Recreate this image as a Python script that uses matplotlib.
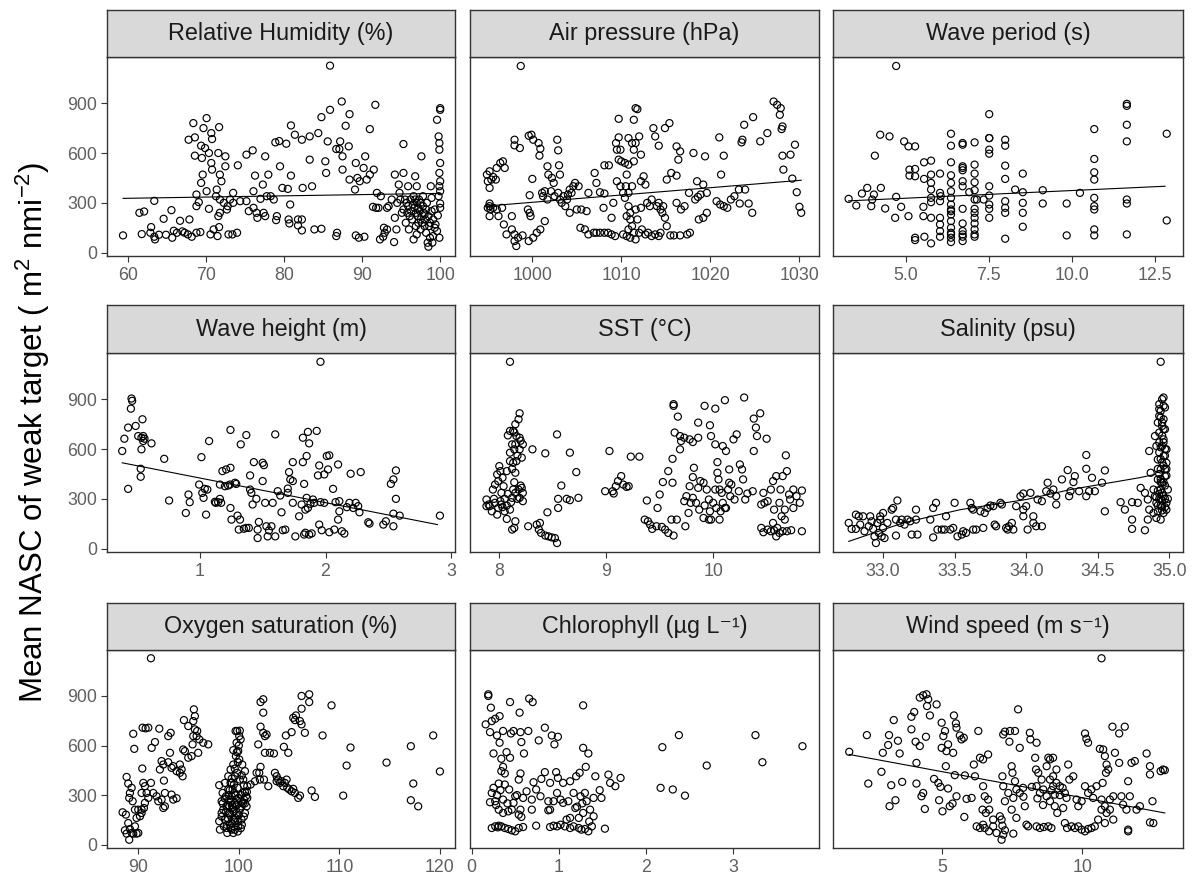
import numpy as np
import matplotlib.pyplot as plt

plt.rcParams['font.family'] = ['Liberation Sans', 'DejaVu Sans']
plt.rcParams['mathtext.fontset'] = 'custom'
plt.rcParams['mathtext.rm'] = 'Liberation Sans'
plt.rcParams['mathtext.it'] = 'Liberation Sans:italic'

# ---- data: (x, mean NASC) per covariate ----
humidity_pts = [
    (59.4, 104), (61.5, 240), (62.1, 248), (63.4, 312), (61.8, 112), (63.0, 154), (62.9, 120), (63.4, 96),
    (63.5, 80), (64.0, 108), (64.6, 204), (64.9, 108), (65.6, 256), (65.7, 90), (65.9, 132), (66.3, 120),
    (66.7, 192), (67.0, 128), (67.3, 120), (67.9, 200), (67.7, 110), (68.2, 96), (68.8, 120), (69.3, 124),
    (68.4, 780), (68.6, 694), (67.8, 680), (68.6, 584), (70.1, 810), (69.7, 750), (70.7, 720), (71.7, 756),
    (70.8, 684), (69.4, 644), (69.9, 630), (70.4, 600), (69.5, 570), (69.6, 470), (69.4, 420), (70.7, 540),
    (70.8, 500), (70.1, 370), (68.8, 350), (69.1, 304), (68.8, 280), (70.4, 264), (71.6, 600), (71.8, 470),
    (72.0, 430), (71.4, 380), (72.5, 580), (72.5, 520), (71.3, 340), (71.8, 320), (72.3, 300), (72.8, 280),
    (71.8, 240), (71.6, 220), (72.7, 260), (73.1, 320), (73.5, 300), (73.5, 360), (74.1, 526), (71.0, 140),
    (70.6, 110), (71.5, 100), (71.7, 154), (72.9, 110), (73.4, 110), (74.0, 120),
    (75.2, 590), (76.0, 616), (74.4, 310), (75.2, 310), (75.5, 250), (76.1, 270), (76.5, 240), (76.6, 210),
    (76.3, 464), (76.1, 370), (77.3, 410), (77.6, 580), (78.0, 470), (77.4, 240), (77.6, 220), (77.0, 324),
    (77.8, 340), (78.3, 340), (78.7, 320), (78.9, 664), (79.4, 672), (80.3, 656), (79.5, 520), (79.1, 220),
    (79.0, 196), (79.8, 390), (80.5, 384), (80.9, 464), (80.8, 290), (80.6, 200), (80.7, 176), (80.9, 766),
    (81.4, 710), (81.8, 200), (82.3, 680), (82.4, 390), (82.3, 200), (81.8, 164), (82.3, 134), (83.3, 700),
    (83.3, 560), (83.6, 400), (83.9, 140), (84.4, 720), (84.8, 144), (84.8, 816), (85.3, 550), (85.4, 480),
    (85.6, 670), (85.9, 1126), (85.9, 860),
    (86.7, 100), (86.8, 120), (86.7, 624), (87.1, 624), (87.2, 670), (87.4, 910), (87.5, 580), (87.5, 500),
    (87.9, 764), (88.3, 640), (88.4, 834), (88.4, 440), (89.1, 380), (89.2, 540), (89.4, 450), (89.2, 104),
    (89.6, 90), (90.3, 96), (89.7, 430), (90.2, 510), (90.4, 580), (90.6, 440), (91.0, 744), (91.0, 470),
    (91.5, 500), (91.7, 890), (91.9, 360), (91.4, 276), (91.8, 270),
    (92.3, 80), (92.7, 96), (92.8, 150), (93.2, 140), (92.9, 120), (92.4, 340), (93.4, 280), (94.1, 64),
    (94.4, 140), (94.2, 210), (94.2, 470), (94.7, 410), (94.8, 360), (95.3, 480), (95.3, 654), (94.9, 320),
    (95.3, 260), (95.7, 300), (95.9, 400), (96.1, 220), (95.6, 180), (96.0, 140), (96.6, 80), (96.8, 460),
    (97.0, 400), (96.8, 320), (97.2, 270), (97.1, 220), (97.5, 300), (97.6, 580), (97.8, 340), (97.9, 240),
    (98.1, 200), (97.5, 140), (98.0, 160), (98.2, 120), (98.4, 60), (98.5, 36), (98.7, 90), (98.5, 220),
    (98.3, 300), (98.8, 400), (98.9, 330), (99.1, 200), (99.1, 100), (99.3, 260), (99.6, 800), (99.8, 700),
    (99.9, 660), (100.0, 870), (100.0, 860), (99.9, 620), (100.0, 540), (99.9, 480), (100.0, 430), (99.9, 400),
    (100.0, 370), (99.8, 340), (100.0, 296), (99.7, 224), (100.0, 270), (99.6, 130), (99.9, 90), (95.8, 240),
    (96.2, 320), (96.5, 290), (96.9, 240), (97.3, 320), (95.1, 240), (95.5, 320), (94.5, 300), (93.8, 320),
    (93.2, 270), (92.1, 270), (97.7, 180), (98.6, 160), (99.4, 170), (96.4, 200), (97.0, 110), (99.0, 60),
    (96.3, 250), (96.7, 270), (97.4, 250), (97.8, 280), (98.2, 260), (98.0, 230), (97.2, 180), (96.9, 160),
    (98.7, 180), (99.3, 150), (97.5, 200), (96.6, 340), (98.9, 250), (95.9, 280), (97.0, 300),
]
humidity_fit = [(59.4, 327), (100.0, 357)]

pressure_pts = [
    (998.7, 1124), (994.9, 470), (995.2, 490), (995.0, 430), (995.4, 440), (995.2, 390), (995.6, 456),
    (995.9, 440), (996.4, 540), (996.7, 550), (996.0, 510), (996.9, 510), (995.2, 280), (995.3, 260),
    (995.0, 270), (995.2, 296), (995.6, 270), (996.0, 260), (996.6, 270), (995.2, 220), (996.2, 220),
    (997.7, 220), (996.8, 170), (997.1, 110), (997.7, 140), (998.0, 110), (998.0, 70), (998.2, 40),
    (998.4, 90), (998.9, 104), (999.5, 260), (999.7, 240), (999.8, 220), (999.6, 70), (1000.1, 90),
    (1000.5, 120), (1000.9, 140), (1001.4, 190), (998.0, 680), (998.0, 646), (998.6, 630), (999.6, 704),
    (999.9, 710), (1000.1, 680), (1000.7, 660), (1000.9, 626), (1000.8, 584), (999.7, 346), (1000.0, 444),
    (1001.1, 360), (1001.2, 340), (1001.4, 370), (1001.7, 520), (1001.8, 470), (1002.1, 370), (1002.2, 450),
    (1001.7, 320), (1002.4, 420), (1002.8, 680), (1002.9, 616), (1003.0, 526), (1003.1, 470), (1002.5, 340),
    (1002.9, 360), (1003.1, 320), (1003.3, 300), (1003.5, 340), (1003.7, 280), (1003.9, 320), (1004.0, 350),
    (1004.2, 380), (1004.4, 360), (1004.6, 400), (1004.8, 420), (1005.2, 400), (1005.0, 260), (1004.2, 240),
    (1005.5, 260), (1006.1, 250), (1005.4, 150), (1005.9, 140), (1006.3, 110), (1006.9, 120), (1007.2, 120),
    (1006.3, 360), (1007.0, 480), (1007.2, 420), (1007.6, 364), (1008.1, 356), (1008.0, 270), (1008.1, 526),
    (1008.6, 526), (1008.9, 210), (1009.1, 300), (1007.6, 120), (1008.1, 120), (1008.5, 120), (1008.9, 110),
    (1009.3, 100),
    (1009.7, 806), (1011.4, 800), (1011.6, 870), (1011.8, 864), (1009.7, 694), (1009.4, 660), (1009.9, 620),
    (1009.5, 620), (1009.7, 560), (1010.0, 550), (1010.4, 540), (1010.8, 690), (1011.2, 660), (1011.6, 660),
    (1012.0, 700), (1011.4, 620), (1012.2, 590), (1010.8, 530), (1011.4, 550), (1010.6, 470), (1009.5, 430),
    (1009.9, 400), (1010.5, 400), (1010.8, 360), (1011.2, 400), (1012.2, 430), (1012.5, 460), (1012.7, 410),
    (1010.2, 360), (1010.4, 330), (1010.8, 280), (1011.0, 240), (1010.6, 220), (1011.0, 200), (1011.2, 160),
    (1010.8, 140), (1011.4, 120), (1011.0, 90), (1010.6, 100), (1011.6, 80), (1010.2, 110), (1012.0, 120),
    (1012.3, 140), (1012.7, 110), (1013.0, 120), (1013.4, 100), (1013.8, 110), (1014.2, 100), (1014.4, 120),
    (1011.8, 200), (1012.2, 270), (1011.6, 260),
    (1012.9, 300), (1013.2, 280), (1013.4, 320), (1014.0, 280), (1014.4, 260), (1014.7, 280), (1014.6, 240),
    (1014.9, 210), (1015.1, 160), (1014.2, 300), (1013.6, 750), (1013.8, 700), (1014.9, 750), (1015.4, 780),
    (1014.2, 644), (1015.1, 440), (1015.6, 480), (1016.2, 464), (1016.2, 640), (1016.4, 560), (1016.6, 610),
    (1016.2, 300), (1016.7, 260), (1017.1, 280), (1017.6, 360), (1018.1, 600), (1018.5, 430), (1018.3, 320),
    (1018.6, 336), (1018.9, 350), (1019.4, 580), (1019.2, 410), (1019.6, 360), (1019.6, 240), (1018.7, 200),
    (1019.2, 210), (1017.7, 120), (1017.4, 110), (1016.6, 104), (1015.9, 104), (1015.5, 104),
    (1021.0, 694), (1021.5, 584), (1021.2, 470), (1020.7, 310), (1021.1, 290), (1021.5, 280), (1021.9, 270),
    (1022.3, 320), (1022.7, 340), (1023.2, 380), (1023.3, 296), (1023.5, 664), (1023.6, 680), (1023.8, 770),
    (1023.9, 380), (1024.7, 240), (1024.3, 296), (1024.8, 816), (1025.6, 670), (1026.4, 720), (1027.1, 910),
    (1027.5, 890), (1027.9, 870), (1027.8, 830), (1028.1, 760), (1028.0, 744), (1028.1, 584), (1028.2, 500),
    (1029.0, 590), (1029.5, 650), (1029.2, 446), (1029.7, 364), (1030.0, 276), (1030.2, 240),
]
pressure_fit = [(994.7, 280), (1030.2, 436)]

period_pts = [
    (4.71, 1124), (3.28, 324), (3.51, 284), (3.68, 356), (3.84, 390), (3.99, 320), (3.96, 280), (4.04, 350),
    (4.07, 584), (4.23, 710), (4.51, 700), (4.25, 390), (4.38, 266), (4.68, 210), (4.71, 336), (4.86, 276),
    (4.95, 670), (5.08, 640), (5.28, 640), (5.11, 500), (5.11, 464), (5.28, 504), (5.28, 460), (5.08, 220),
    (5.28, 90), (5.28, 76), (5.55, 544), (5.76, 554), (5.55, 444), (5.53, 276), (5.53, 220), (5.56, 96),
    (5.76, 470), (5.76, 420), (5.76, 380), (5.76, 304), (5.76, 210), (5.76, 56), (6.03, 476), (6.05, 340),
    (6.03, 310), (6.03, 210), (6.03, 170), (6.03, 130), (6.03, 96), (6.36, 716), (6.36, 644), (6.36, 544),
    (6.36, 466), (6.36, 420), (6.36, 370), (6.36, 330), (6.36, 290), (6.36, 260), (6.36, 230), (6.36, 190),
    (6.36, 150), (6.36, 120), (6.36, 90), (6.36, 64), (6.71, 650), (6.71, 520), (6.71, 496), (6.71, 430),
    (6.71, 400), (6.71, 264), (6.71, 176), (6.71, 130), (6.71, 96), (6.71, 70), (6.91, 364), (7.07, 664),
    (7.07, 530), (7.07, 476), (7.07, 424), (7.07, 376), (7.07, 320), (7.07, 264), (7.07, 210), (7.07, 176),
    (7.07, 140), (7.07, 96), (7.14, 320), (7.34, 320), (7.51, 834), (7.51, 690), (7.51, 596), (7.51, 400),
    (7.51, 344), (7.51, 290), (7.51, 264), (7.51, 210), (7.99, 680), (7.99, 644), (7.99, 524), (7.99, 444),
    (7.99, 310), (7.99, 270), (7.99, 240), (7.99, 84), (8.29, 380), (8.52, 476), (8.52, 364), (8.52, 300),
    (8.52, 240), (8.52, 156), (9.12, 376), (9.12, 296), (9.84, 296), (9.84, 104), (10.24, 360), (10.67, 744),
    (10.67, 564), (10.67, 484), (10.67, 440), (10.67, 330), (10.67, 280), (10.67, 260), (10.67, 140),
    (10.67, 104), (11.65, 896), (11.65, 884), (11.65, 770), (11.65, 670), (11.65, 320), (11.65, 296),
    (11.65, 110), (12.85, 716), (12.85, 194), (6.36, 110), (6.71, 110), (7.07, 110), (6.71, 660), (7.51, 620),
    (6.36, 250), (7.07, 240), (5.76, 330), (6.03, 360), (7.51, 690), (6.71, 510),
]
period_fit = [(3.28, 312), (12.8, 400)]

height_pts = [
    (1.96, 1125), (0.457, 904), (0.462, 890), (0.452, 843), (0.43, 729), (0.49, 739), (0.544, 779),
    (0.40, 662), (0.383, 588), (0.51, 678), (0.536, 668), (0.55, 678), (0.56, 662), (0.536, 598), (0.55, 648),
    (0.616, 634), (0.53, 481), (0.53, 433), (0.43, 360), (0.717, 541), (0.756, 290), (0.889, 215), (0.91, 326),
    (0.92, 280), (0.995, 386), (1.013, 551), (1.02, 336), (1.03, 306), (1.04, 360), (1.06, 356), (1.05, 205),
    (1.074, 648), (1.127, 276), (1.146, 280), (1.16, 300), (1.17, 276), (1.18, 467), (1.21, 477), (1.244, 487),
    (1.244, 715), (1.24, 386), (1.225, 380), (1.16, 386), (1.20, 376), (1.244, 245), (1.252, 175), (1.28, 397),
    (1.29, 390), (1.30, 199), (1.31, 115), (1.32, 175), (1.326, 628), (1.37, 684), (1.37, 125), (1.39, 125),
    (1.40, 441), (1.40, 356), (1.41, 336), (1.42, 266), (1.45, 300), (1.43, 521), (1.46, 115), (1.46, 64),
    (1.50, 407), (1.50, 517), (1.51, 503), (1.47, 161), (1.52, 276), (1.53, 135), (1.54, 74), (1.57, 135),
    (1.58, 276), (1.60, 74), (1.60, 688), (1.62, 346), (1.64, 320), (1.65, 219), (1.66, 111), (1.68, 115),
    (1.70, 336), (1.71, 461), (1.70, 362), (1.72, 417), (1.74, 407), (1.74, 521), (1.74, 276), (1.76, 74),
    (1.79, 195), (1.81, 266), (1.82, 521), (1.82, 668), (1.83, 390), (1.83, 85), (1.84, 235), (1.85, 306),
    (1.85, 558), (1.86, 703), (1.87, 634), (1.87, 85), (1.90, 296), (1.91, 276), (1.93, 709), (1.94, 441),
    (1.95, 145), (1.95, 501), (1.97, 111), (1.99, 447), (1.99, 276), (2.01, 558), (2.02, 477), (2.03, 99),
    (2.03, 562), (2.06, 360), (2.07, 115), (2.08, 280), (2.10, 175), (2.10, 507), (2.11, 225), (2.11, 286),
    (2.13, 105), (2.15, 91), (2.19, 276), (2.20, 451), (2.22, 245), (2.24, 276), (2.26, 256), (2.27, 219),
    (2.28, 461), (2.34, 159), (2.35, 151), (2.46, 145), (2.48, 165), (2.52, 390), (2.54, 417), (2.56, 471),
    (2.56, 300), (2.54, 211), (2.54, 135), (2.59, 199), (2.91, 199), (1.86, 245), (1.88, 270), (1.96, 280),
    (1.84, 96), (1.89, 92), (1.12, 282), (1.35, 120), (1.55, 110), (2.17, 250),
]
height_fit = [(0.383, 517), (2.89, 145)]

sst_pts = [
    (8.10, 1125), (8.19, 815), (8.18, 779), (8.15, 749), (8.13, 709), (8.10, 709), (8.08, 682), (8.16, 678),
    (8.19, 668), (8.22, 628), (8.12, 628), (8.15, 628), (8.10, 578), (8.14, 598), (8.19, 598), (8.21, 548),
    (8.10, 527), (8.13, 517), (8.16, 527), (8.15, 457), (8.07, 467), (8.00, 497), (7.98, 447), (8.01, 467),
    (7.96, 386), (7.94, 356), (7.99, 407), (8.03, 427), (8.04, 376), (8.02, 336), (7.88, 296), (7.90, 266),
    (7.88, 256), (7.91, 256), (7.93, 225), (7.98, 205), (7.99, 245), (8.02, 266), (8.05, 225), (8.07, 179),
    (8.10, 235), (8.01, 286), (7.96, 276), (8.12, 306), (8.15, 336), (8.18, 356), (8.21, 366), (8.22, 336),
    (8.19, 306), (8.22, 286), (8.13, 356), (8.15, 165), (8.12, 115), (8.14, 125), (8.31, 598), (8.43, 574),
    (8.27, 135), (8.35, 145), (8.37, 115), (8.39, 95), (8.43, 79), (8.46, 74), (8.49, 68), (8.52, 64),
    (8.54, 34), (8.45, 219), (8.54, 688), (8.66, 578), (8.58, 380), (8.55, 300), (8.55, 245), (8.63, 300),
    (8.66, 292), (8.72, 461), (8.74, 306), (8.38, 155),
    (8.05, 300), (8.08, 330), (8.11, 280), (8.17, 300), (8.20, 380), (8.14, 400), (8.07, 260), (8.03, 250),
    (7.95, 300), (8.12, 480), (8.17, 560), (8.20, 650), (8.14, 700),
    (9.03, 588), (8.99, 346), (9.06, 346), (9.07, 332), (9.09, 376), (9.11, 407), (9.14, 437), (9.16, 386),
    (9.19, 372), (9.21, 376), (9.23, 554), (9.31, 554),
    (9.38, 290), (9.36, 175), (9.39, 165), (9.41, 145), (9.43, 119), (9.47, 135), (9.52, 131), (9.55, 115),
    (9.58, 95), (9.63, 79), (9.61, 175), (9.66, 175), (9.50, 326), (9.48, 245), (9.53, 401), (9.58, 467),
    (9.62, 541), (9.62, 397), (9.63, 870), (9.63, 860), (9.67, 795), (9.64, 699), (9.69, 678), (9.70, 648),
    (9.69, 598), (9.73, 668), (9.78, 658), (9.81, 642), (9.86, 668), (9.81, 431), (9.82, 487), (9.78, 376),
    (9.75, 316), (9.73, 286), (9.77, 215), (9.74, 135), (9.79, 276), (9.86, 366), (9.86, 759), (9.88, 407),
    (9.91, 397), (9.94, 356), (9.96, 296), (9.92, 260), (9.97, 225), (9.92, 860), (10.02, 843), (9.97, 743),
    (9.98, 678), (10.02, 628), (10.04, 521), (10.04, 457), (10.05, 417), (10.06, 356), (10.08, 336),
    (10.09, 276), (10.11, 245), (10.06, 175), (10.09, 618), (10.12, 588), (10.11, 894), (10.15, 477),
    (10.17, 386), (10.16, 316), (10.19, 658), (10.22, 688), (10.25, 507), (10.27, 477), (10.29, 910),
    (10.28, 417), (10.20, 296), (10.24, 346), (10.30, 296), (10.32, 332), (10.37, 346), (10.38, 783),
    (10.41, 678), (10.44, 815), (10.40, 729), (10.38, 588), (10.50, 662), (10.47, 336), (10.45, 266),
    (10.48, 276), (10.51, 286), (10.54, 356), (10.56, 407), (10.59, 437), (10.63, 356), (10.65, 437),
    (10.68, 562), (10.69, 467), (10.71, 326), (10.72, 296), (10.75, 356), (10.78, 316), (10.83, 350),
    (10.81, 276), (10.75, 245), (10.67, 235), (10.62, 276), (10.57, 235), (10.64, 195), (10.67, 175),
    (10.45, 125), (10.47, 99), (10.51, 115), (10.54, 105), (10.57, 111), (10.60, 125), (10.62, 95),
    (10.65, 105), (10.69, 105), (10.73, 111), (10.83, 105), (10.56, 155), (10.59, 74),
    (9.81, 306), (9.84, 276), (9.87, 235), (9.91, 185), (9.96, 175), (10.00, 276), (10.02, 356), (10.03, 245),
    (10.07, 225), (10.12, 245), (10.14, 356), (10.15, 397), (9.98, 175),
]

salinity_pts = [
    (34.94, 1125), (32.76, 155), (32.78, 119), (32.81, 205), (32.83, 195), (32.81, 119), (32.84, 145),
    (32.86, 195), (32.87, 105), (32.90, 135), (32.91, 195), (32.92, 165), (32.93, 119), (32.94, 74),
    (32.95, 34), (32.96, 155), (32.97, 95), (32.98, 175), (32.99, 74), (33.00, 125), (33.01, 64), (32.98, 195),
    (33.00, 215), (33.03, 155), (33.06, 235), (33.07, 245), (33.09, 175), (33.09, 79), (33.10, 290),
    (33.12, 155), (33.13, 175), (33.15, 145), (33.17, 175), (33.19, 165), (33.20, 85), (33.23, 235),
    (33.23, 175), (33.24, 85),
    (33.33, 175), (33.35, 245), (33.37, 276), (33.35, 68), (33.38, 115), (33.41, 115), (33.44, 195),
    (33.43, 115), (33.47, 115), (33.49, 125), (33.50, 276), (33.52, 74), (33.55, 85), (33.56, 105),
    (33.58, 95), (33.61, 276), (33.62, 245), (33.63, 115), (33.63, 235), (33.65, 115), (33.68, 225),
    (33.70, 125), (33.71, 215), (33.73, 245), (33.75, 260), (33.77, 256), (33.78, 145), (33.79, 135),
    (33.82, 276), (33.83, 266), (33.86, 125), (33.87, 115), (33.88, 135), (33.91, 115), (33.90, 155),
    (33.93, 256), (33.96, 316), (33.98, 332), (33.98, 195), (33.98, 235), (34.00, 256), (34.01, 115),
    (34.03, 336), (34.05, 195), (34.07, 135), (34.08, 296), (34.11, 135), (34.05, 155),
    (34.11, 286), (34.14, 346), (34.15, 397), (34.17, 332), (34.19, 356), (34.21, 266), (34.21, 316),
    (34.25, 417), (34.29, 473), (34.30, 316), (34.31, 346), (34.33, 401), (34.34, 437), (34.37, 346),
    (34.42, 564), (34.42, 481), (34.42, 316), (34.44, 346), (34.46, 427), (34.48, 346), (34.53, 397),
    (34.55, 471), (34.55, 225),
    (34.66, 280), (34.69, 235), (34.74, 280), (34.74, 175), (34.74, 119), (34.78, 276), (34.83, 111),
    (34.85, 175), (34.86, 235), (34.86, 588), (34.87, 457), (34.89, 356), (34.90, 316), (34.91, 276),
    (34.90, 678), (34.91, 618), (34.92, 537), (34.92, 759), (34.93, 799), (34.93, 870), (34.95, 900),
    (34.96, 910), (34.94, 829), (34.95, 739), (34.96, 658), (34.97, 719), (34.98, 598), (34.98, 517),
    (34.97, 437), (34.99, 356), (34.98, 276), (34.95, 397), (34.94, 356), (34.95, 256), (34.96, 215),
    (34.92, 225), (34.89, 215), (34.94, 477), (34.96, 558), (34.92, 417), (34.95, 336), (34.96, 316),
    (34.98, 235), (34.94, 175), (34.91, 185), (34.83, 336), (34.80, 366), (34.85, 296), (34.96, 779),
    (34.97, 477), (34.95, 618), (34.93, 699), (34.93, 300), (34.94, 260), (34.97, 380), (34.92, 480),
    (34.95, 520), (34.93, 640), (34.97, 560), (34.94, 420), (34.96, 860), (34.94, 790),
    (34.93, 330), (34.95, 290), (34.97, 250), (34.92, 260), (34.96, 400), (34.98, 440), (34.94, 540),
    (34.97, 600), (34.93, 580), (34.95, 680), (34.96, 720), (34.94, 610), (34.98, 480), (34.92, 350),
    (34.95, 230), (34.97, 300), (34.96, 500), (34.93, 450), (34.91, 310), (34.99, 300), (34.94, 400),
    (34.96, 640), (34.95, 760), (34.93, 840), (34.97, 850),
]
salinity_fit = [(32.76, 44), (33.14, 155), (33.54, 235), (34.00, 296), (34.31, 356), (34.79, 427),
                (34.90, 447)]

oxygen_pts = [
    (91.26, 1128), (88.44, 196), (88.84, 410), (89.0, 370), (89.17, 313), (89.34, 344), (89.1, 283),
    (89.44, 263), (88.77, 182), (89.0, 131), (88.67, 87), (88.84, 67), (89.1, 30), (89.17, 95), (89.34, 71),
    (89.5, 67), (89.83, 67), (90.0, 71), (89.67, 111), (89.83, 162), (90.17, 172), (89.67, 212), (90.0, 212),
    (90.33, 212), (89.5, 671), (89.6, 580), (90.4, 461), (90.33, 313), (90.5, 374), (90.66, 354), (90.83, 313),
    (91.0, 283), (90.66, 253), (90.56, 222), (90.33, 192), (90.43, 708), (90.73, 704), (91.0, 708),
    (91.26, 374), (91.33, 586), (91.66, 621), (91.49, 313), (91.82, 293), (91.99, 263), (92.09, 702),
    (92.15, 455), (92.32, 506), (92.49, 485), (92.55, 388), (92.65, 313), (92.32, 273), (92.49, 222),
    (92.65, 232), (92.98, 499), (93.15, 556), (93.22, 677), (93.31, 465), (93.48, 475), (93.31, 303),
    (93.48, 273), (93.81, 281), (93.81, 445), (94.14, 435), (94.14, 485), (94.41, 414), (94.31, 455),
    (94.47, 576), (94.64, 566), (94.54, 754), (94.97, 718), (94.97, 526), (95.3, 536), (95.4, 607),
    (95.53, 819), (95.63, 778), (95.47, 748), (95.63, 698), (95.86, 688), (95.47, 657), (95.8, 657),
    (96.07, 637), (95.96, 556), (96.46, 617), (96.96, 607), (92.98, 657),
    (98.05, 360), (98.05, 142), (98.12, 91), (98.29, 192), (98.29, 263), (98.39, 313), (98.45, 212),
    (98.52, 111), (98.62, 374), (98.62, 152), (98.72, 293), (98.78, 232), (98.85, 71), (98.95, 414),
    (98.95, 334), (99.05, 192), (99.05, 273), (99.12, 121), (99.18, 455), (99.18, 374), (99.28, 293),
    (99.28, 91), (99.38, 212), (99.45, 572), (99.45, 485), (99.45, 152), (99.51, 364), (99.55, 313),
    (99.61, 253), (99.68, 688), (99.71, 536), (99.78, 617), (99.78, 192), (99.84, 688), (99.84, 435),
    (99.88, 344), (99.94, 111), (99.97, 283), (100.04, 516), (100.1, 394), (100.1, 212), (100.18, 637),
    (100.27, 232), (100.27, 152), (100.34, 485), (100.37, 313), (100.44, 394), (100.51, 273), (100.61, 445),
    (100.61, 192), (100.71, 293), (100.77, 232), (100.84, 283), (99.61, 91), (99.45, 71), (98.78, 101),
    (99.12, 182), (99.28, 374), (99.61, 414), (99.94, 566), (100.04, 657), (99.38, 334), (99.78, 273),
    (99.05, 232), (98.4, 250), (98.9, 160), (99.6, 140), (100.2, 260), (99.3, 240), (98.7, 200),
    (99.0, 300), (99.2, 260), (99.4, 230), (99.6, 300), (99.8, 240), (100.0, 180), (100.2, 300),
    (100.4, 250), (100.6, 320), (99.5, 200), (99.7, 160), (99.3, 130), (99.9, 140), (100.3, 120),
    (100.5, 170), (98.9, 240), (99.1, 330), (99.3, 400), (99.6, 460), (99.9, 500), (100.0, 600),
    (100.1, 690), (99.8, 560), (98.6, 280), (98.3, 170), (98.8, 120), (99.2, 100), (99.9, 80), (100.2, 100),
    (100.6, 250), (100.8, 320), (100.5, 360), (100.3, 420),
    (100.84, 354), (101.17, 364), (101.6, 384), (101.77, 435), (101.93, 607), (102.03, 435), (102.1, 394),
    (102.16, 714), (102.16, 471), (102.16, 863), (102.43, 880), (102.43, 799), (102.43, 677), (102.6, 657),
    (102.6, 556), (102.76, 667), (102.93, 354), (102.5, 394), (103.09, 556), (103.49, 552), (103.59, 435),
    (103.76, 414), (103.92, 394), (104.09, 374), (104.25, 384), (104.42, 354), (104.58, 374), (104.75, 394),
    (104.82, 344), (105.02, 334), (105.25, 323), (105.41, 338), (105.58, 313), (105.91, 283), (104.48, 592),
    (104.68, 661), (104.92, 556), (105.25, 681), (105.41, 768), (105.68, 782), (105.58, 754), (106.08, 748),
    (106.24, 900), (106.24, 823), (106.24, 728), (106.57, 677), (107.0, 910), (107.0, 863), (107.24, 328),
    (107.57, 289), (109.22, 843), (108.33, 661), (106.08, 297), (103.76, 384),
    (110.38, 297), (110.72, 479), (111.11, 588), (114.69, 497), (117.11, 596), (117.35, 370), (117.11, 269),
    (117.84, 232), (119.33, 661), (120.0, 443),
]

chlorophyll_pts = [
    (0.19, 910), (0.19, 900), (0.22, 829), (0.44, 863), (0.55, 799), (0.66, 884), (0.70, 863), (1.28, 843),
    (0.16, 728), (0.23, 748), (0.27, 762), (0.32, 778), (0.21, 681), (0.29, 661), (0.32, 617), (0.36, 688),
    (0.45, 673), (0.48, 688), (0.56, 681), (0.57, 621), (0.65, 688), (0.77, 631), (0.84, 708), (0.92, 661),
    (0.99, 653), (0.95, 607), (0.25, 552), (0.40, 560), (0.44, 526), (0.60, 552), (1.28, 586), (1.34, 552),
    (0.34, 520), (0.36, 471), (0.38, 431), (0.34, 445), (0.56, 431), (0.54, 394), (0.84, 439), (0.97, 439),
    (1.31, 471), (1.42, 414), (1.57, 424), (1.71, 404), (1.65, 354), (1.59, 374), (1.47, 330), (1.49, 283),
    (1.20, 414), (1.24, 435), (1.13, 384), (1.05, 374), (0.99, 404), (0.90, 374), (0.80, 398), (0.71, 378),
    (0.74, 334), (0.79, 293), (0.69, 273), (0.63, 323), (0.59, 283), (0.50, 293), (0.48, 253), (0.46, 212),
    (0.43, 334), (0.38, 364), (0.31, 370), (0.25, 344), (0.23, 313), (0.21, 257), (0.27, 263), (0.31, 212),
    (0.36, 273), (0.36, 192), (0.42, 202), (0.54, 182), (0.57, 168), (0.56, 212), (0.69, 212), (0.88, 263),
    (0.94, 263), (0.98, 313), (0.88, 208), (1.02, 273), (1.05, 253), (1.11, 263), (1.17, 313), (1.19, 222),
    (1.25, 293), (1.30, 313), (1.32, 263), (1.36, 212), (1.40, 283), (1.28, 192), (1.23, 162), (1.13, 162),
    (1.09, 152), (1.40, 172), (0.23, 101), (0.27, 111), (0.31, 115), (0.34, 111), (0.38, 101), (0.42, 95),
    (0.46, 87), (0.50, 81), (0.54, 101), (0.59, 107), (0.74, 115), (0.90, 107), (0.94, 115), (0.98, 111),
    (1.02, 121), (1.07, 111), (1.13, 101), (1.17, 111), (1.23, 101), (1.26, 91), (1.30, 95), (1.34, 81),
    (1.38, 111), (1.53, 97), (0.90, 212), (0.29, 300), (0.33, 330), (0.28, 240), (0.41, 250), (1.21, 230),
    (1.35, 140), (1.27, 250), (0.30, 105), (0.52, 300),
    (2.19, 590), (2.38, 663), (2.70, 479), (3.26, 663), (3.34, 499), (3.80, 596), (2.17, 344), (2.31, 334),
    (2.45, 297),
]

wind_pts = [
    (10.69, 1128), (1.68, 562), (2.31, 663), (2.36, 370), (2.83, 441), (3.07, 603), (3.10, 663), (3.18, 360),
    (3.12, 233), (3.33, 269), (3.27, 754), (3.42, 629), (3.48, 552), (2.88, 556), (3.57, 380), (3.90, 774),
    (4.0, 803), (3.90, 698), (4.05, 623), (4.08, 495), (4.08, 370), (4.20, 597), (4.26, 293), (4.32, 313),
    (4.38, 216), (4.42, 653), (4.20, 890), (4.32, 904), (4.44, 910), (4.50, 880), (4.46, 839), (4.56, 782),
    (4.80, 849), (4.71, 398), (4.86, 374), (4.94, 350), (4.98, 586), (5.04, 657), (4.98, 738), (5.10, 688),
    (5.13, 475), (5.21, 340), (4.89, 269), (5.01, 202), (5.21, 607), (5.27, 233), (5.15, 566), (5.39, 556),
    (5.42, 782), (5.49, 734), (5.51, 708), (5.37, 249), (5.45, 421), (5.63, 661), (5.69, 637), (5.77, 647),
    (5.81, 419), (5.51, 293), (5.87, 277), (6.05, 283), (5.79, 168), (6.13, 485), (6.17, 414), (6.29, 688),
    (6.35, 526), (6.46, 516), (6.64, 546), (6.46, 354), (6.52, 293), (6.64, 273), (6.44, 212), (6.56, 192),
    (6.68, 212), (6.46, 121), (6.23, 111), (6.35, 101), (6.52, 101), (6.67, 81), (6.82, 152), (6.82, 111),
    (6.94, 71), (7.06, 172), (7.12, 152), (7.15, 115), (7.18, 61), (7.24, 87), (7.12, 30), (7.54, 67),
    (7.18, 667), (7.24, 684), (7.42, 688), (7.40, 623), (7.60, 688), (7.71, 819), (7.77, 586), (7.15, 414),
    (7.18, 354), (7.24, 263), (7.36, 313), (7.48, 475), (7.51, 435), (7.60, 384), (7.65, 334), (7.54, 283),
    (7.48, 212), (7.65, 162), (7.77, 313), (7.89, 344), (7.95, 233), (8.01, 121), (8.07, 111), (8.13, 677),
    (8.15, 637), (8.37, 617), (8.32, 526), (8.35, 455), (8.43, 435), (8.37, 354), (8.49, 313), (8.55, 394),
    (8.61, 334), (8.73, 475), (8.79, 526), (8.85, 516), (8.96, 526), (8.85, 394), (8.73, 293), (8.85, 263),
    (8.96, 354), (9.02, 303), (9.08, 374), (9.20, 354), (9.30, 344), (9.38, 313), (9.44, 283), (8.96, 414),
    (9.08, 455), (8.37, 111), (8.49, 101), (8.63, 107), (8.79, 111), (8.90, 101), (9.02, 233), (9.11, 192),
    (9.32, 222), (9.38, 131), (9.46, 101), (9.62, 111), (9.74, 101), (9.86, 111), (9.98, 91), (10.10, 81),
    (10.21, 95), (10.33, 101), (10.45, 111), (9.50, 485), (9.54, 394), (9.68, 414), (9.80, 273), (9.86, 233),
    (9.98, 263), (10.10, 673), (10.15, 641), (10.21, 617), (10.10, 354), (10.21, 313), (10.33, 334),
    (10.39, 283), (10.51, 354), (10.63, 580), (10.75, 576), (10.81, 536), (10.73, 374), (10.85, 435),
    (10.87, 485), (10.93, 455), (10.69, 273), (10.81, 233), (10.87, 192), (10.99, 212), (11.11, 293),
    (11.17, 556), (11.08, 714), (11.32, 673), (11.52, 714), (11.32, 495), (11.40, 293), (11.46, 243),
    (11.58, 212), (11.64, 384), (11.70, 293), (11.64, 91), (11.64, 81), (11.76, 495), (11.88, 506),
    (11.94, 212), (12.06, 233), (12.30, 552), (12.42, 475), (12.42, 425), (12.51, 263), (12.42, 135),
    (12.54, 131), (12.80, 445), (12.89, 455), (12.95, 451), (10.69, 212), (10.57, 152), (10.81, 131),
    (11.11, 152), (10.99, 273), (8.6, 240), (8.9, 330), (9.2, 300), (8.4, 280), (7.9, 290), (8.2, 350),
]
wind_fit = [(1.68, 546), (12.95, 192)]

panels = [
    ('Relative Humidity (%)', humidity_pts, humidity_fit, (57.35, 101.9), [60, 70, 80, 90, 100], '{:.0f}'),
    ('Air pressure (hPa)', pressure_pts, pressure_fit, (993.0, 1032.2), [1000, 1010, 1020, 1030], '{:.0f}'),
    ('Wave period (s)', period_pts, period_fit, (2.81, 13.34), [5.0, 7.5, 10.0, 12.5], '{:.1f}'),
    ('Wave height (m)', height_pts, height_fit, (0.262, 3.03), [1, 2, 3], '{:.0f}'),
    ('SST (°C)', sst_pts, None, (7.726, 10.99), [8, 9, 10], '{:.0f}'),
    ('Salinity (psu)', salinity_pts, salinity_fit, (32.65, 35.096), [33.0, 33.5, 34.0, 34.5, 35.0], '{:.1f}'),
    ('Oxygen saturation (%)', oxygen_pts, None, (86.89, 121.5), [90, 100, 110, 120], '{:.0f}'),
    ('Chlorophyll (µg L⁻¹)', chlorophyll_pts, None, (-0.02, 3.99), [0, 1, 2, 3], '{:.0f}'),
    ('Wind speed (m s⁻¹)', wind_pts, wind_fit, (1.10, 13.6), [5, 10], '{:.0f}'),
]
y_ticks = [0, 300, 600, 900]
y_lim = (-20, 1178)

# ---- layout in pixels ----
W, H = 1193, 883
col_px = [(107, 455), (470, 819), (833, 1183)]
row_px = [(57, 256), (353, 552), (650, 848)]
strip_h = 47.5
frame = '#333333'
tick_col = '#606060'


def px_rect(x0, y0, x1, y1):
    return [x0 / W, 1 - y1 / H, (x1 - x0) / W, (y1 - y0) / H]


fig = plt.figure(figsize=(W / 100, H / 100), dpi=100)

for i, (title, pts, fit, xlim, xticks, fmt) in enumerate(panels):
    r, c = divmod(i, 3)
    x0, x1 = col_px[c]
    y0, y1 = row_px[r]

    ax = fig.add_axes(px_rect(x0, y0, x1, y1))
    xs, ys = np.array(pts).T
    ax.scatter(xs, ys, s=26, facecolors='none', edgecolors='black', linewidths=0.85, zorder=2)
    if fit is not None:
        fx, fy = np.array(fit).T
        ax.plot(fx, fy, color='black', lw=0.8, zorder=3)
    ax.set_xlim(*xlim)
    ax.set_ylim(*y_lim)
    ax.set_xticks(xticks)
    ax.set_xticklabels([fmt.format(v) for v in xticks])
    ax.set_yticks(y_ticks)
    if c == 0:
        ax.set_yticklabels([str(v) for v in y_ticks])
        ax.tick_params(axis='y', length=4.5, width=0.8, color=frame, pad=2.5,
                       labelsize=12.8, labelcolor=tick_col)
    else:
        ax.tick_params(axis='y', left=False, labelleft=False)
    ax.tick_params(axis='x', length=4.5, width=0.8, color=frame, pad=3.5,
                   labelsize=12.8, labelcolor=tick_col)
    for sp in ax.spines.values():
        sp.set_color(frame)
        sp.set_linewidth(1.0)

    sax = fig.add_axes(px_rect(x0, y0 - strip_h, x1, y0))
    sax.set_facecolor('#d9d9d9')
    sax.set_xticks([])
    sax.set_yticks([])
    for sp in sax.spines.values():
        sp.set_color(frame)
        sp.set_linewidth(1.0)
    sax.text(0.5, 0.5, title, transform=sax.transAxes, ha='center', va='center',
             fontsize=16.8, color='#1a1a1a')

fig.text(33 / W, 1 - 432 / H, 'Mean NASC of weak target ( m$^{2}$ nmi$^{-2}$)',
         rotation=90, ha='center', va='center', fontsize=22.5, color='black')

fig.savefig('out.png', dpi=100)
